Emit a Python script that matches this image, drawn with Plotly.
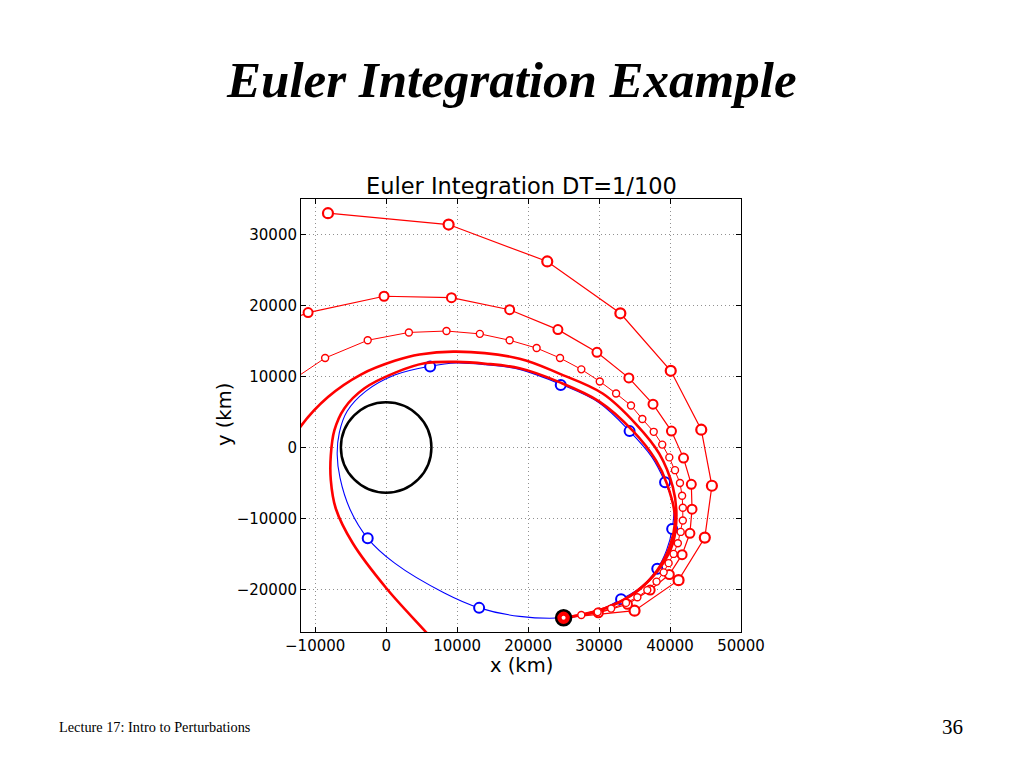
import plotly.graph_objects as go

# ---------------- data (km) ----------------
earth_radius = 6378

# true orbit (blue line)
blue_x = [25000, 29200, 33100, 36000, 38200, 39500, 40300, 40500, 39300, 37400, 34300, 30000,
          24600, 18800, 14000, 9900, 6200, 1200, -2900, -5500, -6600, -6900, -6500, -5100, -2600,
          1200, 8200, 13100, 18800, 25000]
blue_y = [-24000, -23300, -21400, -19600, -17100, -14500, -11500, -8200, -4900, -1300, 2300, 6300,
          8900, 11000, 11650, 11900, 11450, 10200, 7900, 5100, 2100, -1000, -4300, -8700, -12800,
          -16300, -20500, -22600, -23800, -24000]

# true orbit sample points (blue circles)
blue_pts_x = [25000, 33100, 38200, 40300, 39300, 34300, 24600, 6200, -2600, 13100]
blue_pts_y = [-24000, -21400, -17100, -11500, -4900, 2300, 8800, 11400, -12800, -22600]

# Euler, largest step (big markers)
a_x = [25000, 35000, 41200, 44900, 45900, 44400, 40100, 33000, 22700, 8800, -8200]
a_y = [-24000, -23000, -18700, -12700, -5400, 2500, 10800, 18900, 26200, 31400, 33000]

# Euler, medium step
b_x = [25000, 29900, 34000, 37200, 39900, 41700, 42800, 43100, 43000, 41900, 40200, 37600,
       34200, 29700, 24200, 17400, 9200, -300, -11000, -21000]
b_y = [-24000, -23300, -22100, -20100, -17900, -15100, -12100, -8700, -5200, -1500, 2300, 6100,
       9800, 13400, 16600, 19400, 21100, 21300, 19000, 15000]

# Euler, small step
c_x = [25000, 27500, 29800, 31700, 33800, 35400, 36800, 38100, 39100, 39800, 40500, 41100,
       41500, 41800, 41800, 41700, 41400, 40700, 39900, 38900, 37700, 36100, 34500, 32400,
       30100, 27500, 24500, 21200, 17400, 13200, 8500, 3200, -2600, -8600, -13800]
c_y = [-24000, -23600, -23200, -22700, -21900, -21100, -20100, -18900, -17600, -16300, -15000, -13500,
       -11900, -10300, -8500, -6800, -5000, -3200, -1400, 400, 2200, 4000, 5900, 7600,
       9300, 11000, 12600, 14000, 15100, 16000, 16400, 16200, 15100, 12600, 9100]

# Euler DT=1/100 style continuous curves (thick red)
r1_x = [25000, 29100, 32900, 36100, 38700, 40400, 40900, 40400, 38500, 35200, 30500, 24400,
        18800, 9900, 4700, 1200, -3500, -8200, -12100, -15000]
r1_y = [-24000, -23200, -21800, -19600, -16800, -13500, -9600, -5600, -900, 3300, 7600, 10400,
        12500, 13500, 13100, 12200, 10300, 7100, 2900, -2000]

r2_x = [25000, 28900, 32600, 35700, 38200, 39900, 40700, 39600, 38000, 34700, 30000, 24400,
        18800, 14000, 9900, 5400, 1200, -3100, -5900, -7300, -7800, -7800, -7100, -4700, 0, 5600, 8000]
r2_y = [-24000, -23300, -21900, -20000, -17300, -14100, -10000, -5200, -1800, 2400, 6500, 9200,
        11150, 11800, 12050, 11850, 10500, 8300, 5500, 2400, -1100, -4600, -8600, -13500, -19800, -26000, -28700]

x_ticks = [-10000, 0, 10000, 20000, 30000, 40000, 50000]
y_ticks = [-20000, -10000, 0, 10000, 20000, 30000]
x_range = [-12000, 50000]
y_range = [-26000, 35000]


def lab(v):
    return ("\u2212" + str(-v)) if v < 0 else str(v)


RED = "#ff0000"
BLUE = "#0000ff"

fig = go.Figure()

fig.add_trace(go.Scatter(x=blue_x, y=blue_y, mode="lines", line=dict(color=BLUE, width=1.1, shape="spline"),
                         hoverinfo="skip"))
fig.add_trace(go.Scatter(x=blue_pts_x, y=blue_pts_y, mode="markers",
                         marker=dict(symbol="circle", size=10, color="white", line=dict(color=BLUE, width=2))))

fig.add_trace(go.Scatter(x=r1_x, y=r1_y, mode="lines", line=dict(color=RED, width=2.6, shape="spline")))
fig.add_trace(go.Scatter(x=r2_x, y=r2_y, mode="lines", line=dict(color=RED, width=2.6, shape="spline")))

fig.add_trace(go.Scatter(x=a_x, y=a_y, mode="lines+markers", line=dict(color=RED, width=1.2),
                         marker=dict(symbol="circle", size=10, color="white", line=dict(color=RED, width=2.2))))
fig.add_trace(go.Scatter(x=b_x, y=b_y, mode="lines+markers", line=dict(color=RED, width=1.2),
                         marker=dict(symbol="circle", size=9, color="white", line=dict(color=RED, width=2))))
fig.add_trace(go.Scatter(x=c_x, y=c_y, mode="lines+markers", line=dict(color=RED, width=1.0),
                         marker=dict(symbol="circle", size=7, color="white", line=dict(color=RED, width=1.4))))

# start point
fig.add_trace(go.Scatter(x=[a_x[0]], y=[a_y[0]], mode="markers",
                         marker=dict(symbol="circle", size=15, color=RED, line=dict(color="black", width=2.5))))
fig.add_trace(go.Scatter(x=[a_x[0]], y=[a_y[0]], mode="markers",
                         marker=dict(symbol="circle", size=4, color="white", line=dict(width=0))))

fig.add_shape(type="circle", xref="x", yref="y", x0=-earth_radius, x1=earth_radius,
              y0=-earth_radius, y1=earth_radius, line=dict(color="black", width=2.5), layer="above")

axis_common = dict(showgrid=True, gridcolor="#909090", griddash="1px,3px", gridwidth=1,
                   zeroline=False, showline=True, linecolor="black", linewidth=1, mirror="ticks",
                   ticks="inside", ticklen=5, tickwidth=1, tickcolor="black",
                   tickfont=dict(family="DejaVu Sans", size=15, color="black"))

fig.update_xaxes(range=x_range, tickvals=x_ticks, ticktext=[lab(v) for v in x_ticks], **axis_common)
fig.update_yaxes(range=y_range, tickvals=y_ticks, ticktext=[lab(v) for v in y_ticks], **axis_common)

# page offset of the figure inside the browser page (body margin)
OFF = 8
W, H = 1024, 768
L, R, T, B = 301 - OFF, 741 - OFF, 199 - OFF, 632 - OFF


def px(xp):
    return (xp - OFF - L) / (R - L)


def py(yp):
    return (B - (yp - OFF)) / (B - T)


annotations = [
    dict(text="<b><i>Euler Integration Example</i></b>", x=px(511), y=py(80), xref="paper", yref="paper",
         showarrow=False, xanchor="center", yanchor="middle",
         font=dict(family="Liberation Serif", size=51, color="black")),
    dict(text="Euler Integration DT=1/100", x=px(521), y=py(186), xref="paper", yref="paper",
         showarrow=False, xanchor="center", yanchor="middle",
         font=dict(family="DejaVu Sans", size=22.5, color="black")),
    dict(text="x (km)", x=px(521), y=py(665), xref="paper", yref="paper",
         showarrow=False, xanchor="center", yanchor="middle",
         font=dict(family="DejaVu Sans", size=19.5, color="black")),
    dict(text="y (km)", x=px(224), y=py(415), xref="paper", yref="paper", textangle=-90,
         showarrow=False, xanchor="center", yanchor="middle",
         font=dict(family="DejaVu Sans", size=19.5, color="black")),
    dict(text="Lecture 17: Intro to Perturbations", x=px(57), y=py(727), xref="paper", yref="paper",
         showarrow=False, xanchor="left", yanchor="middle",
         font=dict(family="Liberation Serif", size=14.3, color="black")),
    dict(text="36", x=px(952), y=py(727), xref="paper", yref="paper",
         showarrow=False, xanchor="center", yanchor="middle",
         font=dict(family="Liberation Serif", size=21, color="black")),
]

fig.update_layout(width=W, height=H, autosize=False,
                  margin=dict(l=L, r=W - R, t=T, b=H - B, pad=0),
                  paper_bgcolor="white", plot_bgcolor="white",
                  showlegend=False, annotations=annotations)

fig.write_html("out.html")
